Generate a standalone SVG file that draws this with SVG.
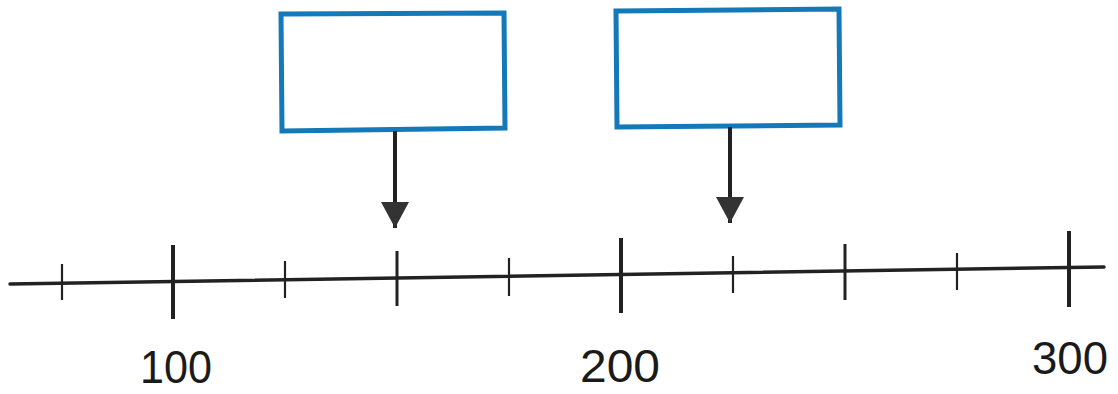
<svg xmlns="http://www.w3.org/2000/svg" width="1118" height="394" viewBox="0 0 1118 394">
<style>
.box{fill:#fff;stroke:#1479b8;stroke-width:5}
.axis{stroke:#222;stroke-width:3.5;fill:none;stroke-linecap:round}
.tick{stroke:#222;stroke-width:2.2}
.big{stroke:#222;stroke-width:4}
.med{stroke:#222;stroke-width:3}
.arrow{stroke:#222;stroke-width:4}
.lbl{font-family:"Liberation Sans",Arial,sans-serif;font-size:47px;fill:#1a1a1a}
</style>
<defs>
<marker id="ah" markerWidth="7" markerHeight="7" refX="6.5" refY="3.5" orient="auto" markerUnits="strokeWidth">
<path d="M0,0 L6.5,3.5 L0,7 Z" fill="#333"/>
</marker>
</defs>
<rect width="1118" height="394" fill="#fff"/>
<g id="node-box1"><path class="box" d="M281,14 L504,13 L505,128 L282,131 Z"/></g>
<g id="node-box2"><path class="box" d="M616,11 L839,9 L840,125 L617,127 Z"/></g>
<g id="connectors">
<line class="arrow" x1="395" y1="131" x2="395" y2="228" marker-end="url(#ah)"/>
<line class="arrow" x1="730" y1="127" x2="730" y2="223" marker-end="url(#ah)"/>
</g>
<g id="number-line">
<line class="axis" x1="10" y1="284" x2="1104" y2="267"/>
<line class="tick" x1="62" y1="264" x2="62" y2="300"/>
<line class="big" x1="173" y1="245" x2="173" y2="319"/>
<line class="tick" x1="285" y1="261" x2="285" y2="298"/>
<line class="med" x1="397" y1="251" x2="397" y2="306"/>
<line class="tick" x1="509" y1="258" x2="509" y2="296"/>
<line class="big" x1="621" y1="238" x2="621" y2="313"/>
<line class="tick" x1="733" y1="256" x2="733" y2="293"/>
<line class="med" x1="845" y1="244" x2="845" y2="300"/>
<line class="tick" x1="957" y1="253" x2="957" y2="290"/>
<line class="big" x1="1069" y1="231" x2="1069" y2="307"/>
</g>
<g id="labels">
<text class="lbl" x="140" y="383" textLength="72" lengthAdjust="spacingAndGlyphs">100</text>
<text class="lbl" x="580" y="382" textLength="80" lengthAdjust="spacingAndGlyphs">200</text>
<text class="lbl" x="1032" y="374" textLength="76" lengthAdjust="spacingAndGlyphs">300</text>
</g>
</svg>
